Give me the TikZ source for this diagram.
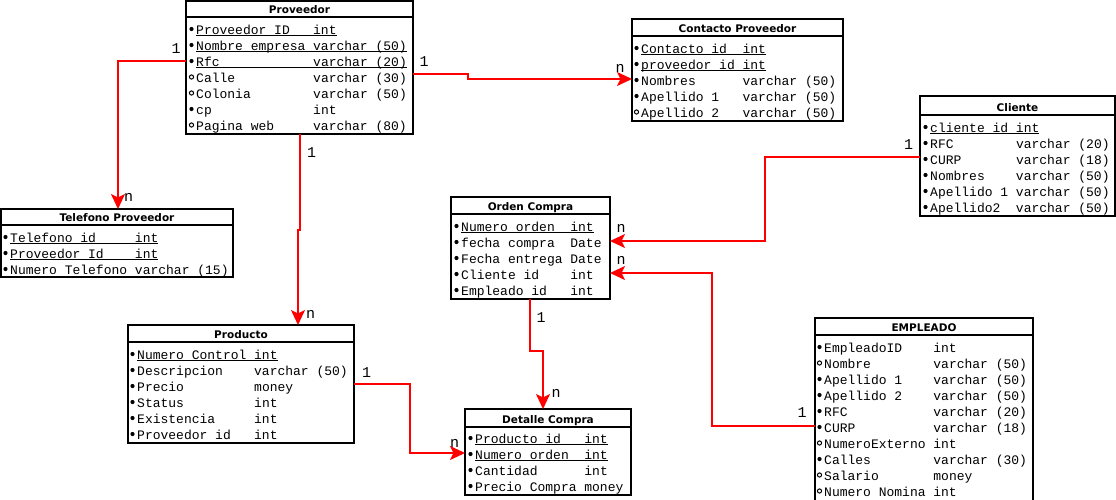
\documentclass[tikz,border=0pt]{standalone}
\usepackage{fontspec}
\usetikzlibrary{arrows.meta}

\newfontfamily\monofont{Liberation Mono}
\newfontfamily\headfont{DejaVu Sans}

% one character cell of the 13pt monospaced row font
\newlength\cellw
\setlength\cellw{7.8pt}
% name padded to a fixed number of cells, then the type
\newcommand\cols[3]{\makebox[#1\cellw][l]{#2}#3}
% key columns: underline the whole row text
\newcommand\keyline[1]{\setbox0\hbox{#1}\rlap{\rule[-2.2pt]{\wd0}{0.9pt}}\box0}

\tikzset{
  tblbox/.style={draw, line width=1.8pt, inner sep=0pt, outer sep=0pt, anchor=north west},
  tblrule/.style={line width=1.8pt},
  tbltitle/.style={font=\headfont\bfseries\fontsize{10.5}{12}\selectfont, inner sep=0pt, anchor=base},
  rowtext/.style={font=\monofont\fontsize{13}{13}\selectfont, anchor=base west, inner sep=0pt},
  keydot/.style={fill=black},
  optdot/.style={draw=black, line width=1pt},
  rel/.style={draw=red, line width=2pt, -{Stealth[length=15pt,width=14pt,inset=3.5pt]}},
  card/.style={font=\monofont\fontsize{15}{15}\selectfont, inner sep=0pt},
}

% table frame: name, left, top, right, title rule, bottom, title
\newcommand\ertable[7]{%
  \node[tblbox, minimum width={#4-#2}, minimum height={#6-#3}] (#1) at (#2,#3) {};
  \draw[tblrule] (#2,#5) -- (#4,#5);
  \node[tbltitle] (#1-title) at ({(#2+#4)/2},{#5-3.5}) {#7};
}
% table row: name, text x, baseline, marker style, text
\newcommand\errow[5]{%
  \node[rowtext] (#1) at (#2,#3) {#5};
  \path[#4] ({#2-4.5},{#3-5}) circle[radius=2.1pt];
}

\begin{document}
\begin{tikzpicture}[x=1pt,y=-1pt]
\useasboundingbox (0,0) rectangle (1116,499);

% ---------- Proveedor ----------
\ertable{prov}{186}{1}{413}{17}{134}{Proveedor}
\errow{prov-r1}{196}{34}{keydot}{\keyline{\cols{15}{Proveedor ID}{int}}}
\errow{prov-r2}{196}{50}{keydot}{\keyline{\cols{15}{Nombre empresa}{varchar (50)}}}
\errow{prov-r3}{196}{66}{keydot}{\keyline{\cols{15}{Rfc}{varchar (20)}}}
\errow{prov-r4}{196}{82}{optdot}{\cols{15}{Calle}{varchar (30)}}
\errow{prov-r5}{196}{98}{optdot}{\cols{15}{Colonia}{varchar (50)}}
\errow{prov-r6}{196}{114}{keydot}{\cols{15}{cp}{int}}
\errow{prov-r7}{196}{130}{optdot}{\cols{15}{Pagina web}{varchar (80)}}

% ---------- Contacto Proveedor ----------
\ertable{cont}{632}{19}{843}{36}{121}{Contacto Proveedor}
\errow{cont-r1}{641}{53}{keydot}{\keyline{\cols{13}{Contacto id}{int}}}
\errow{cont-r2}{641}{69}{keydot}{\keyline{\cols{13}{proveedor id}{int}}}
\errow{cont-r3}{641}{85}{keydot}{\cols{13}{Nombres}{varchar (50)}}
\errow{cont-r4}{641}{101}{keydot}{\cols{13}{Apellido 1}{varchar (50)}}
\errow{cont-r5}{641}{117}{optdot}{\cols{13}{Apellido 2}{varchar (50)}}

% ---------- Cliente ----------
\ertable{cli}{920}{96}{1115}{115}{216}{Cliente}
\errow{cli-r1}{930}{132}{keydot}{\keyline{\cols{11}{cliente id}{int}}}
\errow{cli-r2}{930}{148}{keydot}{\cols{11}{RFC}{varchar (20)}}
\errow{cli-r3}{930}{164}{keydot}{\cols{11}{CURP}{varchar (18)}}
\errow{cli-r4}{930}{180}{keydot}{\cols{11}{Nombres}{varchar (50)}}
\errow{cli-r5}{930}{196}{keydot}{\cols{11}{Apellido 1}{varchar (50)}}
\errow{cli-r6}{930}{212}{keydot}{\cols{11}{Apellido2}{varchar (50)}}

% ---------- Telefono Proveedor ----------
\ertable{tel}{1}{209}{233}{225}{277}{Telefono Proveedor}
\errow{tel-r1}{10}{242}{keydot}{\keyline{\cols{16}{Telefono id}{int}}}
\errow{tel-r2}{10}{258}{keydot}{\keyline{\cols{16}{Proveedor Id}{int}}}
\errow{tel-r3}{10}{274}{keydot}{\cols{16}{Numero Telefono}{varchar (15)}}

% ---------- Orden Compra ----------
\ertable{ord}{451}{197}{610}{214}{299}{Orden Compra}
\errow{ord-r1}{461}{231}{keydot}{\keyline{\cols{14}{Numero orden}{int}}}
\errow{ord-r2}{461}{247}{keydot}{\cols{14}{fecha compra}{Date}}
\errow{ord-r3}{461}{263}{keydot}{\cols{14}{Fecha entrega}{Date}}
\errow{ord-r4}{461}{279}{keydot}{\cols{14}{Cliente id}{int}}
\errow{ord-r5}{461}{295}{keydot}{\cols{14}{Empleado id}{int}}

% ---------- Producto ----------
\ertable{prod}{128}{325}{354}{342}{443}{Producto}
\errow{prod-r1}{137}{359}{keydot}{\keyline{\cols{15}{Numero Control}{int}}}
\errow{prod-r2}{137}{375}{keydot}{\cols{15}{Descripcion}{varchar (50)}}
\errow{prod-r3}{137}{391}{keydot}{\cols{15}{Precio}{money}}
\errow{prod-r4}{137}{407}{keydot}{\cols{15}{Status}{int}}
\errow{prod-r5}{137}{423}{keydot}{\cols{15}{Existencia}{int}}
\errow{prod-r6}{137}{439}{keydot}{\cols{15}{Proveedor id}{int}}

% ---------- Detalle Compra ----------
\ertable{det}{465}{409}{631}{427}{495}{Detalle Compra}
\errow{det-r1}{475}{443}{keydot}{\keyline{\cols{14}{Producto id}{int}}}
\errow{det-r2}{475}{459}{keydot}{\keyline{\cols{14}{Numero orden}{int}}}
\errow{det-r3}{475}{475}{keydot}{\cols{14}{Cantidad}{int}}
\errow{det-r4}{475}{491}{keydot}{\cols{14}{Precio Compra}{money}}

% ---------- EMPLEADO (runs past the lower edge) ----------
\ertable{emp}{815}{318}{1033}{335}{510}{EMPLEADO}
\errow{emp-r1}{824}{352}{keydot}{\cols{14}{EmpleadoID}{int}}
\errow{emp-r2}{824}{368}{optdot}{\cols{14}{Nombre}{varchar (50)}}
\errow{emp-r3}{824}{384}{keydot}{\cols{14}{Apellido 1}{varchar (50)}}
\errow{emp-r4}{824}{400}{keydot}{\cols{14}{Apellido 2}{varchar (50)}}
\errow{emp-r5}{824}{416}{keydot}{\cols{14}{RFC}{varchar (20)}}
\errow{emp-r6}{824}{432}{keydot}{\cols{14}{CURP}{varchar (18)}}
\errow{emp-r7}{824}{448}{optdot}{\cols{14}{NumeroExterno}{int}}
\errow{emp-r8}{824}{464}{keydot}{\cols{14}{Calles}{varchar (30)}}
\errow{emp-r9}{824}{480}{optdot}{\cols{14}{Salario}{money}}
\errow{emp-r10}{824}{496}{optdot}{\cols{14}{Numero Nomina}{int}}

% ---------- relationships ----------
\draw[rel] (prov.west |- 0,61) -| (tel.north -| 118,0);
\node[card] (c-tel-1) at (176,49) {1};
\node[card] (c-tel-n) at (128.5,197.5) {n};

\draw[rel] (prov.east |- 0,74) -| (468,79) -- (cont.west |- 0,79);
\node[card] (c-cont-1) at (424,62) {1};
\node[card] (c-cont-n) at (620,68) {n};

\draw[rel] (prov.south -| 300,0) |- (298,230) -- (prod.north -| 298,0);
\node[card] (c-prod-1) at (311.5,152.5) {1};
\node[card] (c-prod-n) at (310.5,314) {n};

\draw[rel] (prod.east |- 0,384) -| (410,453) -- (det.west |- 0,453);
\node[card] (c-det-1) at (366.5,373) {1};
\node[card] (c-det-n) at (454.5,443) {n};

\draw[rel] (cli.west |- 0,157) -| (765,241) -- (ord.east |- 0,241);
\node[card] (c-cli-1) at (908.5,145) {1};
\node[card] (c-cli-n) at (621,228.5) {n};

\draw[rel] (emp.west |- 0,426) -| (712,273) -- (ord.east |- 0,273);
\node[card] (c-emp-1) at (802,413) {1};
\node[card] (c-emp-n) at (621,260.5) {n};

\draw[rel] (ord.south -| 530,0) |- (543,351) -- (det.north -| 543,0);
\node[card] (c-ord-1) at (541,318) {1};
\node[card] (c-ord-n) at (556,393) {n};

\end{tikzpicture}
\end{document}
